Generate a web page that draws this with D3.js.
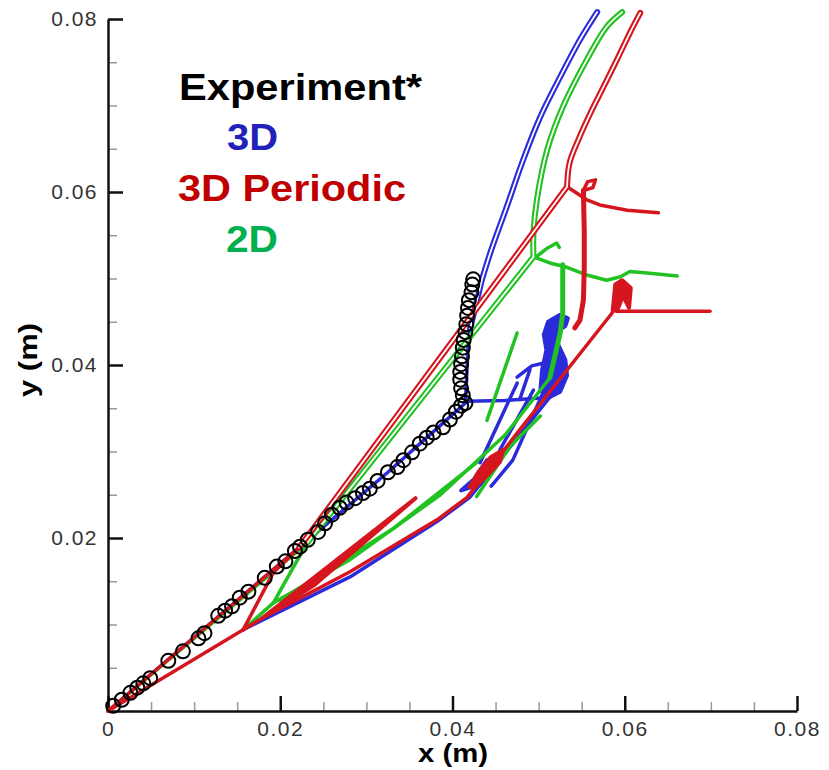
<!DOCTYPE html>
<html>
<head>
<meta charset="utf-8">
<script src="https://cdn.jsdelivr.net/npm/d3@7"></script>
<style>
  body { margin: 0; background: #fff; }
  text { font-family: "Liberation Sans", Arial, sans-serif; }
</style>
</head>
<body>
<div class="canvas"></div>
<script>
// tick values
const xTicks = [0, 0.02, 0.04, 0.06, 0.08];
const yTicks = [0.02, 0.04, 0.06, 0.08];
const legendLabels = ['Experiment*', '3D', '3D Periodic', '2D'];

// experiment (circles)
const expX = [0.0006,0.0016,0.0026,0.0034,0.0041,0.0049,0.0070,0.0087,0.0105,0.0112,
  0.0128,0.0136,0.0144,0.0153,0.0163,0.0182,0.0196,0.0206,0.0217,0.0223,
  0.0232,0.0244,0.0252,0.0260,0.0269,0.0277,0.0287,0.0296,0.0304,0.0313,0.0325,0.0336,
  0.0343,0.0353,0.0362,0.0370,0.0378,0.0389,0.0397,0.0404,0.0410,0.0415,
  0.0412,0.0410,0.0409,0.0409,0.0410,0.0411,0.0412,0.0413,0.0415,0.0416,0.0417,
  0.0418,0.0419,0.0422,0.0423,0.0424];
const expY = [0.0006,0.0013,0.0021,0.0027,0.0032,0.0038,0.0058,0.0069,0.0084,0.0090,
  0.0110,0.0116,0.0121,0.0131,0.0138,0.0154,0.0167,0.0173,0.0185,0.0190,
  0.0198,0.0207,0.0217,0.0227,0.0235,0.0241,0.0246,0.0252,0.0257,0.0266,0.0276,0.0282,
  0.0290,0.0299,0.0309,0.0316,0.0322,0.0328,0.0337,0.0346,0.0353,0.0356,
  0.0365,0.0373,0.0383,0.0392,0.0401,0.0410,0.0420,0.0429,0.0438,0.0447,0.0457,
  0.0466,0.0475,0.0484,0.0493,0.0499];

// 3D (blue)
const blueShock = [[0.0420,0.0440],[0.0434,0.0498],[0.0444,0.0530],[0.0463,0.0583],[0.0482,0.0637],
  [0.0502,0.0687],[0.0525,0.0733],[0.0548,0.0776],[0.0568,0.0808]];
const blueBranches = [
  [[0,0],[0.0223,0.0190],[0.0325,0.0276],[0.0397,0.0340],[0.0415,0.0356],[0.0418,0.0420],[0.0420,0.0440]],
  [[0.0157,0.0094],[0.0281,0.0155],[0.0382,0.0219],[0.0420,0.0247],[0.0478,0.0319],[0.0533,0.0388]],
  [[0.0416,0.0358],[0.0461,0.0359],[0.0507,0.0362]],
  [[0.0475,0.0386],[0.0492,0.0399],[0.0505,0.0402],[0.0503,0.0372]],
  [[0.0478,0.0360],[0.0490,0.0395]],
  [[0.0475,0.0379],[0.0432,0.0287]],
  [[0.0494,0.0371],[0.0455,0.0302]],
  [[0.0510,0.0379],[0.0470,0.0290],[0.0445,0.0260]]
];
const blueBlobs = [
  [[0.0511,0.0450],[0.0525,0.0458],[0.0534,0.0454],[0.0531,0.0445],[0.0520,0.0438],[0.0523,0.0423],
    [0.0531,0.0406],[0.0533,0.0388],[0.0525,0.0369],[0.0511,0.0362],[0.0502,0.0371],[0.0504,0.0394],
    [0.0509,0.0417],[0.0506,0.0435]],
  [[0.0410,0.0255],[0.0425,0.0268],[0.0440,0.0290],[0.0447,0.0280],[0.0432,0.0262]]
];

// 2D (green)
const greenShock = [[0.0231,0.0194],[0.0494,0.0525],[0.0494,0.0553],[0.0498,0.0591],[0.0510,0.0649],
  [0.0528,0.0698],[0.0556,0.0753],[0.0579,0.0791],[0.0597,0.0808]];
const greenBranches = [
  [[0,0],[0.0231,0.0194]],
  [[0.0157,0.0094],[0.0192,0.0125],[0.0231,0.0194]],
  [[0.0494,0.0525],[0.0513,0.0518],[0.0533,0.0513],[0.0556,0.0504],[0.0579,0.0498],[0.0595,0.0502],
    [0.0606,0.0508],[0.0629,0.0506],[0.0661,0.0503]],
  [[0.0497,0.0525],[0.0510,0.0535],[0.0521,0.0541],[0.0524,0.0536]],
  [[0.0475,0.0437],[0.0440,0.0336]],
  [[0.0192,0.0125],[0.0281,0.0175],[0.0386,0.0250],[0.0461,0.0319],[0.0513,0.0385]],
  [[0.0200,0.0128],[0.0330,0.0210],[0.0428,0.0287]],
  [[0.0428,0.0248],[0.0467,0.0306],[0.0502,0.0341]]
];
const greenStems = [
  [[0.0528,0.0516],[0.0528,0.0460],[0.0525,0.0437],[0.0513,0.0385]]
];

// 3D Periodic (red)
const redShock = [[0.0222,0.0189],[0.0533,0.0606],[0.0536,0.0634],[0.0546,0.0660],[0.0560,0.0691],
  [0.0575,0.0721],[0.0591,0.0753],[0.0606,0.0784],[0.0618,0.0807]];
const redBranches = [
  [[0,0],[0.0222,0.0189]],
  [[0,0],[0.0157,0.0094]],
  [[0.0157,0.0094],[0.0192,0.0160],[0.0222,0.0189]],
  [[0.0533,0.0606],[0.0556,0.0591],[0.0571,0.0585],[0.0603,0.0579],[0.0639,0.0576]],
  [[0.0552,0.0602],[0.0557,0.0612],[0.0566,0.0614],[0.0563,0.0605],[0.0553,0.0602]],
  [[0.0157,0.0094],[0.0180,0.0108],[0.0281,0.0161],[0.0382,0.0221],[0.0417,0.0247],[0.0478,0.0325],
    [0.0536,0.0398],[0.0586,0.0461]],
  [[0.0590,0.0462],[0.0699,0.0462]]
];
const redStems = [
  [[0.0552,0.0602],[0.0553,0.0553],[0.0553,0.0513],[0.0552,0.0475],[0.0548,0.0452],[0.0542,0.0443]]
];
const redBlobs = [
  [[0.0586,0.0463],[0.0589,0.0493],[0.0597,0.0498],[0.0607,0.0489],[0.0605,0.0466],[0.0598,0.0480],[0.0592,0.0465]],
  [[0.0420,0.0259],[0.0430,0.0276],[0.0444,0.0293],[0.0459,0.0302],[0.0455,0.0288],[0.0441,0.0273],[0.0426,0.0259]],
  [[0.0180,0.0108],[0.0357,0.0246],[0.0240,0.0146]]
];

const dims = {width: 829, height: 770};
const plot = {left: 108, right: 797, top: 19, bottom: 711};
const colours = {blue: '#2b2bdc', green: '#22c222', red: '#d6161e'};

const svg = d3.select('.canvas')
    .append('svg')
    .attr('width', dims.width)
    .attr('height', dims.height);

const x = d3.scaleLinear().domain([0, 0.08]).range([plot.left, plot.right]);
const y = d3.scaleLinear().domain([0, 0.08]).range([plot.bottom, plot.top]);

// minor ticks every 0.005
const minorTicks = d3.range(0, 0.0801, 0.005).filter(v => Math.round(v * 1000) % 20 !== 0);

svg.append('g')
    .attr('transform', `translate(0, ${plot.bottom})`)
    .call(d3.axisBottom(x).tickValues(minorTicks).tickSize(-9).tickFormat(''))
    .call(g => g.select('.domain').remove())
    .selectAll('line').attr('stroke', '#999').attr('stroke-width', 1.5);

svg.append('g')
    .attr('transform', `translate(${plot.left}, 0)`)
    .call(d3.axisLeft(y).tickValues(minorTicks).tickSize(-9).tickFormat(''))
    .call(g => g.select('.domain').remove())
    .selectAll('line').attr('stroke', '#999').attr('stroke-width', 1.5);

const fmt = d => d === 0 ? '0' : d3.format('.2f')(d);

const xAxis = svg.append('g')
    .attr('transform', `translate(0, ${plot.bottom})`)
    .call(d3.axisBottom(x).tickValues(xTicks).tickSizeInner(-15).tickSizeOuter(0).tickPadding(10).tickFormat(fmt));

const yAxis = svg.append('g')
    .attr('transform', `translate(${plot.left}, 0)`)
    .call(d3.axisLeft(y).tickValues(yTicks).tickSizeInner(-15).tickSizeOuter(0).tickPadding(10).tickFormat(fmt));

[xAxis, yAxis].forEach(g => {
    g.select('.domain').attr('stroke', '#111').attr('stroke-width', 2.5);
    g.selectAll('.tick line').attr('stroke', '#111').attr('stroke-width', 2.5);
    g.selectAll('text')
        .attr('font-size', 21)
        .attr('fill', '#333')
        .attr('letter-spacing', '1.5px')
        .style('font-family', '"Liberation Sans", Arial, sans-serif');
});

// axis titles
svg.append('text')
    .attr('x', 453).attr('y', 762)
    .attr('text-anchor', 'middle')
    .attr('font-size', 25).attr('font-weight', 'bold')
    .attr('textLength', 70).attr('lengthAdjust', 'spacingAndGlyphs')
    .text('x (m)');

svg.append('text')
    .attr('transform', 'translate(37, 360) rotate(-90)')
    .attr('text-anchor', 'middle')
    .attr('font-size', 25).attr('font-weight', 'bold')
    .attr('textLength', 74).attr('lengthAdjust', 'spacingAndGlyphs')
    .text('y (m)');

// line generators
const smooth = d3.line().x(d => x(d[0])).y(d => y(d[1])).curve(d3.curveCatmullRom.alpha(0.5));
const straight = d3.line().x(d => x(d[0])).y(d => y(d[1]));

// straight front up to the triple point, then the curved part
const shockPath = pts => straight(pts.slice(0, 2)) + smooth(pts.slice(1));

const drawSet = (colour, shock, branches, stems, blobs) => {
    const g = svg.append('g')
        .attr('fill', 'none')
        .attr('stroke-linecap', 'round')
        .attr('stroke-linejoin', 'round');

    g.selectAll('path.branch')
        .data(branches)
        .enter().append('path')
        .attr('class', 'branch')
        .attr('d', straight)
        .attr('stroke', colour)
        .attr('stroke-width', 3.5);

    g.selectAll('path.stem')
        .data(stems)
        .enter().append('path')
        .attr('class', 'stem')
        .attr('d', straight)
        .attr('stroke', colour)
        .attr('stroke-width', 5);

    g.selectAll('path.blob')
        .data(blobs)
        .enter().append('path')
        .attr('class', 'blob')
        .attr('d', d => straight(d) + 'Z')
        .attr('fill', colour)
        .attr('stroke', colour)
        .attr('stroke-width', 4);

    // shock fronts are drawn as a double line
    g.append('path').attr('d', shockPath(shock)).attr('stroke', colour).attr('stroke-width', 6);
    g.append('path').attr('d', shockPath(shock)).attr('stroke', '#fff').attr('stroke-width', 1.8);
};

drawSet(colours.blue, blueShock, blueBranches, [], blueBlobs);
drawSet(colours.green, greenShock, greenBranches, greenStems, []);
drawSet(colours.red, redShock, redBranches, redStems, redBlobs);

// experiment circles
svg.append('g')
    .selectAll('circle')
    .data(expX.map((v, i) => [v, expY[i]]))
    .enter().append('circle')
    .attr('cx', d => x(d[0]))
    .attr('cy', d => y(d[1]))
    .attr('r', 7)
    .attr('fill', 'none')
    .attr('stroke', '#000')
    .attr('stroke-width', 2);

// legend
const legendPos = [
    {x: 179, y: 100, len: 243, colour: '#000'},
    {x: 227, y: 150, len: 51, colour: '#2222bb'},
    {x: 178, y: 201, len: 228, colour: '#c00000'},
    {x: 226, y: 252, len: 52, colour: '#00b050'}
];

svg.append('g')
    .selectAll('text')
    .data(legendLabels)
    .enter().append('text')
    .attr('x', (d, i) => legendPos[i].x)
    .attr('y', (d, i) => legendPos[i].y)
    .attr('fill', (d, i) => legendPos[i].colour)
    .attr('font-size', 36)
    .attr('font-weight', 'bold')
    .attr('textLength', (d, i) => legendPos[i].len)
    .attr('lengthAdjust', 'spacingAndGlyphs')
    .text(d => d);
</script>
</body>
</html>
